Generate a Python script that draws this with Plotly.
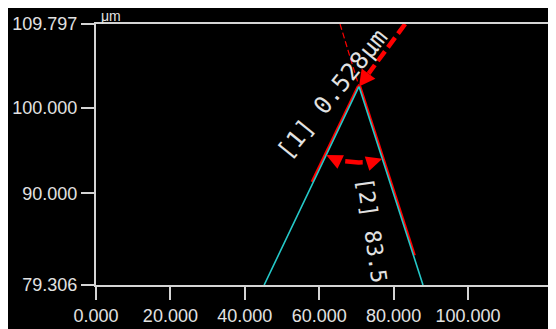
import math
import plotly.graph_objects as go

# ---------------- data ----------------
x_tick_vals = [0, 20, 40, 60, 80, 100]
x_tick_text = ["0.000", "20.000", "40.000", "60.000", "80.000", "100.000"]
y_tick_vals = [79.306, 90.0, 100.0, 109.797]
y_tick_text = ["79.306", "90.000", "100.000", "109.797"]

# measured profile (cyan)
profile_x = [45.2, 70.7, 87.9]
profile_y = [79.306, 102.5, 79.306]

# fitted side lines (red)
fit_left_x = [58.0, 70.45]
fit_left_y = [91.37, 102.6]
fit_right_x = [70.95, 85.7]
fit_right_y = [102.6, 82.78]

# thickness measurement [1]: dashed arrow from top edge to apex
thick_x = [83.1, 70.7]
thick_y = [109.797, 102.5]
# thin reference line
ref_x = [65.6, 70.7]
ref_y = [109.797, 102.5]

label1_text = "[1] 0.528μm"
label1_pos = (63.6, 101.6)
label2_text = "[2] 83.5"
label2_pos = (74.2, 85.7)
unit_text = "μm"

# ---------------- layout constants ----------------
W, H = 556, 329
ML, MR, MT, MB = 88, 0, 16, 52
X_RANGE = [0.0, 125.8]
Y_RANGE = [79.306, 109.797]
PW = W - ML - MR
PH = H - MT - MB

RED = "#ff0000"
CYAN = "#25c8c8"
AXIS = "#d4d4d4"
TXT = "#e2e2e2"


def to_px(x, y):
    px = ML + (x - X_RANGE[0]) / (X_RANGE[1] - X_RANGE[0]) * PW
    py = MT + (Y_RANGE[1] - y) / (Y_RANGE[1] - Y_RANGE[0]) * PH
    return px, py


def to_data(px, py):
    x = X_RANGE[0] + (px - ML) / PW * (X_RANGE[1] - X_RANGE[0])
    y = Y_RANGE[1] - (py - MT) / PH * (Y_RANGE[1] - Y_RANGE[0])
    return x, y


def arrowhead(tip_px, d, L, Wd):
    bx, by = tip_px[0] - d[0] * L, tip_px[1] - d[1] * L
    nx, ny = -d[1], d[0]
    pts = [tip_px, (bx + nx * Wd / 2, by + ny * Wd / 2),
           (bx - nx * Wd / 2, by - ny * Wd / 2), tip_px]
    dat = [to_data(*p) for p in pts]
    return [p[0] for p in dat], [p[1] for p in dat]


def unit(v):
    n = math.hypot(v[0], v[1])
    return v[0] / n, v[1] / n


fig = go.Figure()

# red fitted sides
for fx, fy in ((fit_left_x, fit_left_y), (fit_right_x, fit_right_y)):
    fig.add_trace(go.Scatter(x=fx, y=fy, mode="lines",
                             line=dict(color=RED, width=2.2),
                             hoverinfo="skip", showlegend=False))

# cyan profile
fig.add_trace(go.Scatter(x=profile_x, y=profile_y, mode="lines",
                         line=dict(color=CYAN, width=1.6),
                         hoverinfo="skip", showlegend=False))

# thin reference dashed line
fig.add_trace(go.Scatter(x=ref_x, y=ref_y, mode="lines",
                         line=dict(color=RED, width=1.2, dash="6px,3px"),
                         hoverinfo="skip", showlegend=False))

# thick dashed arrow [1]
s_px = to_px(thick_x[0], thick_y[0])
t_px = to_px(thick_x[1], thick_y[1])
d = unit((t_px[0] - s_px[0], t_px[1] - s_px[1]))
AL, AW = 16, 17
base = to_data(t_px[0] - d[0] * AL, t_px[1] - d[1] * AL)
fig.add_trace(go.Scatter(x=[thick_x[0], base[0]], y=[thick_y[0], base[1]],
                         mode="lines",
                         line=dict(color=RED, width=4.5, dash="12px,5px"),
                         hoverinfo="skip", showlegend=False))
hx, hy = arrowhead(t_px, d, AL, AW)
fig.add_trace(go.Scatter(x=hx, y=hy, mode="lines", fill="toself",
                         fillcolor=RED, line=dict(color=RED, width=0),
                         hoverinfo="skip", showlegend=False))

# angle arc [2]
apex = to_px(profile_x[1], profile_y[1])
lp = to_px(profile_x[0], profile_y[0])
rp = to_px(profile_x[2], profile_y[2])
a_l = math.atan2(lp[1] - apex[1], lp[0] - apex[0])
a_r = math.atan2(rp[1] - apex[1], rp[0] - apex[0])
R = 76
HL, HW, GAP = 16, 15, 4
tip_l = (apex[0] + R * math.cos(a_l), apex[1] + R * math.sin(a_l))
tip_r = (apex[0] + R * math.cos(a_r), apex[1] + R * math.sin(a_r))
d_l = (-math.sin(a_l), math.cos(a_l))
d_r = (math.sin(a_r), -math.cos(a_r))
for tp, dd in ((tip_l, d_l), (tip_r, d_r)):
    hx, hy = arrowhead(tp, dd, HL, HW)
    fig.add_trace(go.Scatter(x=hx, y=hy, mode="lines", fill="toself",
                             fillcolor=RED, line=dict(color=RED, width=0),
                             hoverinfo="skip", showlegend=False))
a0 = a_l - (HL + GAP) / R
a1 = a_r + (HL + GAP) / R
n = 20
arc = [to_data(apex[0] + R * math.cos(a0 + (a1 - a0) * i / n),
               apex[1] + R * math.sin(a0 + (a1 - a0) * i / n)) for i in range(n + 1)]
fig.add_trace(go.Scatter(x=[p[0] for p in arc], y=[p[1] for p in arc],
                         mode="lines", line=dict(color=RED, width=4.5),
                         hoverinfo="skip", showlegend=False))

# labels
fig.add_annotation(x=label1_pos[0], y=label1_pos[1], text=label1_text,
                   textangle=-51, showarrow=False,
                   font=dict(family="DejaVu Sans Mono", size=24, color=TXT),
                   xanchor="center", yanchor="middle")
fig.add_annotation(x=label2_pos[0], y=label2_pos[1], text=label2_text,
                   textangle=82, showarrow=False,
                   font=dict(family="DejaVu Sans Mono", size=22, color=TXT),
                   xanchor="center", yanchor="middle")
fig.add_annotation(x=(102.5 - ML) / PW, y=(H - MB - 17) / PH,
                   xref="paper", yref="paper",
                   text=unit_text, showarrow=False,
                   font=dict(family="Liberation Sans", size=14, color=TXT),
                   xanchor="center", yanchor="bottom", borderpad=0)

axis_common = dict(showgrid=False, zeroline=False, showline=True,
                   linecolor=AXIS, linewidth=2, ticks="outside", ticklen=13,
                   tickwidth=2, tickcolor=AXIS,
                   tickfont=dict(family="Liberation Sans", size=18, color=TXT))
fig.update_xaxes(range=X_RANGE, tickvals=x_tick_vals, ticktext=x_tick_text,
                 mirror=True, **axis_common)
fig.update_yaxes(range=Y_RANGE, tickvals=y_tick_vals, ticktext=y_tick_text,
                 mirror=False, **axis_common)

fig.update_layout(width=W, height=H, autosize=False,
                  margin=dict(l=ML, r=MR, t=MT, b=MB, pad=0),
                  paper_bgcolor="black", plot_bgcolor="black",
                  showlegend=False)

fig.write_html("out.html")
